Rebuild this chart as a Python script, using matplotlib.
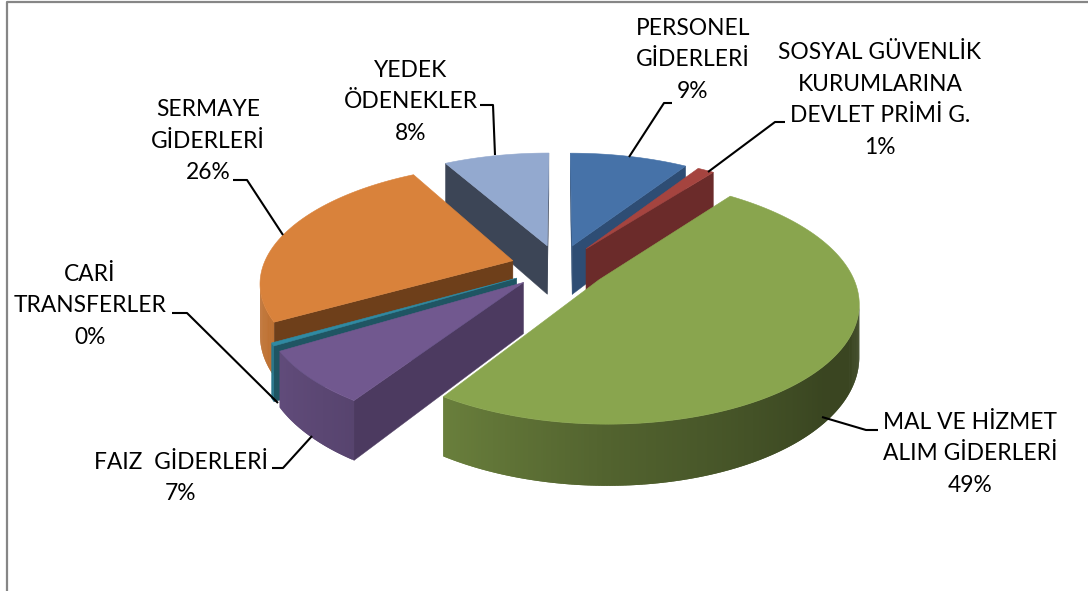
import numpy as np
import matplotlib
matplotlib.use("Agg")
import matplotlib.pyplot as plt
from matplotlib.patches import Polygon

names = ["PERSONEL\nGİDERLERİ", "SOSYAL GÜVENLİK\nKURUMLARINA\nDEVLET PRİMİ G.",
         "MAL VE HİZMET\nALIM GİDERLERİ", "FAIZ  GİDERLERİ", "CARİ\nTRANSFERLER",
         "SERMAYE\nGİDERLERİ", "YEDEK\nÖDENEKLER"]
shares = [9.2, 1.3, 49.4, 7.2, 0.4, 25.5, 8.2]

top_colors = ["#4672A8", "#A5443F", "#89A54E", "#71588F", "#2F8AA3", "#D9823B", "#93A9CF"]
cut_colors = ["#2E4D74", "#6B2B2A", "#4F5F2C", "#4C3A60", "#1F5563", "#6E3F1A", "#3C4556"]
draw_order = [6, 0, 1, 5, 4, 3, 2]

# label centre, leader line (pixels)
label_pos = [(693, 60), (880, 100), (970, 454), (181, 478), (90, 306), (208, 141), (411, 102)]
leaders = [[(629, 157), (664, 103), (672, 103)],
           [(708, 172), (775, 122), (785, 122)],
           [(822, 417), (866, 430), (878, 430)],
           [(312, 436), (283, 468), (272, 468)],
           [(278, 403), (187, 313), (172, 313)],
           [(283, 235), (247, 180), (233, 180)],
           [(495, 155), (493, 105), (480, 105)]]

# projection of the pie plane
cx, cy = 559, 266.6
a, b, p = 250, 115, 0.17
explode = 0.193
depth = 50


def project(u, v, z=0):
    s = 1 / (1 + p * v)
    return np.column_stack([cx + a * u * s, cy - b * v * s + depth * z * s])


def shade(color, f):
    return tuple(np.array(matplotlib.colors.to_rgb(color)) * f)


def area(pts):
    x, y = pts[:, 0], pts[:, 1]
    return np.sum(x * np.roll(y, -1) - np.roll(x, -1) * y)


fig = plt.figure(figsize=(10.88, 5.91), dpi=100)
ax = fig.add_axes([0, 0, 1, 1])
ax.set_xlim(0, 1088)
ax.set_ylim(591, 0)
ax.axis("off")

ax.plot([7, 7, 1088], [591, 2, 2], color="#868686", lw=1.6)

edges = np.cumsum([0] + shares) / sum(shares) * 360

for i in draw_order:
    t0, t1 = edges[i], edges[i + 1]
    mid = np.radians((t0 + t1) / 2)
    ou, ov = explode * np.sin(mid), explode * np.cos(mid)
    th = np.radians(np.linspace(t0, t1, max(int(t1 - t0) * 2, 6)))
    u = ou + np.sin(th)
    v = ov + np.cos(th)

    # the two cut faces, only those turned to the viewer
    for j in (0, -1):
        quad = np.vstack([project(np.array([ou, u[j]]), np.array([ov, v[j]])),
                          project(np.array([u[j], ou]), np.array([v[j], ov]), 1)])
        facing = area(quad) < 0 if j == 0 else area(quad) > 0
        if facing:
            ax.add_patch(Polygon(quad, fc=cut_colors[i], ec=cut_colors[i], lw=0.3))

    # outer wall in overlapping strips, so no seams show
    for k in range(len(th) - 1):
        uu, vv = u[k:k + 3], v[k:k + 3]
        quad = np.vstack([project(uu, vv), project(uu[::-1], vv[::-1], 1)])
        if area(quad) < 0:
            f = np.interp(np.degrees(th[k]), [100, 130, 180, 215, 245, 280],
                          [0.42, 0.42, 0.6, 0.78, 0.88, 0.9])
            c = shade(top_colors[i], f)
            ax.add_patch(Polygon(quad, fc=c, ec="none"))

    top = np.vstack([project(np.array([ou]), np.array([ov])), project(u, v)])
    ax.add_patch(Polygon(top, fc=top_colors[i], ec=top_colors[i], lw=0.4))

for i in range(len(names)):
    pts = np.array(leaders[i])
    ax.plot(pts[:, 0], pts[:, 1], color="black", lw=1.5, solid_capstyle="butt")
    ax.text(label_pos[i][0], label_pos[i][1], f"{names[i]}\n{round(shares[i])}%",
            ha="center", va="center", family="Lato", fontsize=16.4, linespacing=1.63,
            color="black")

fig.savefig("out.png", dpi=100)
